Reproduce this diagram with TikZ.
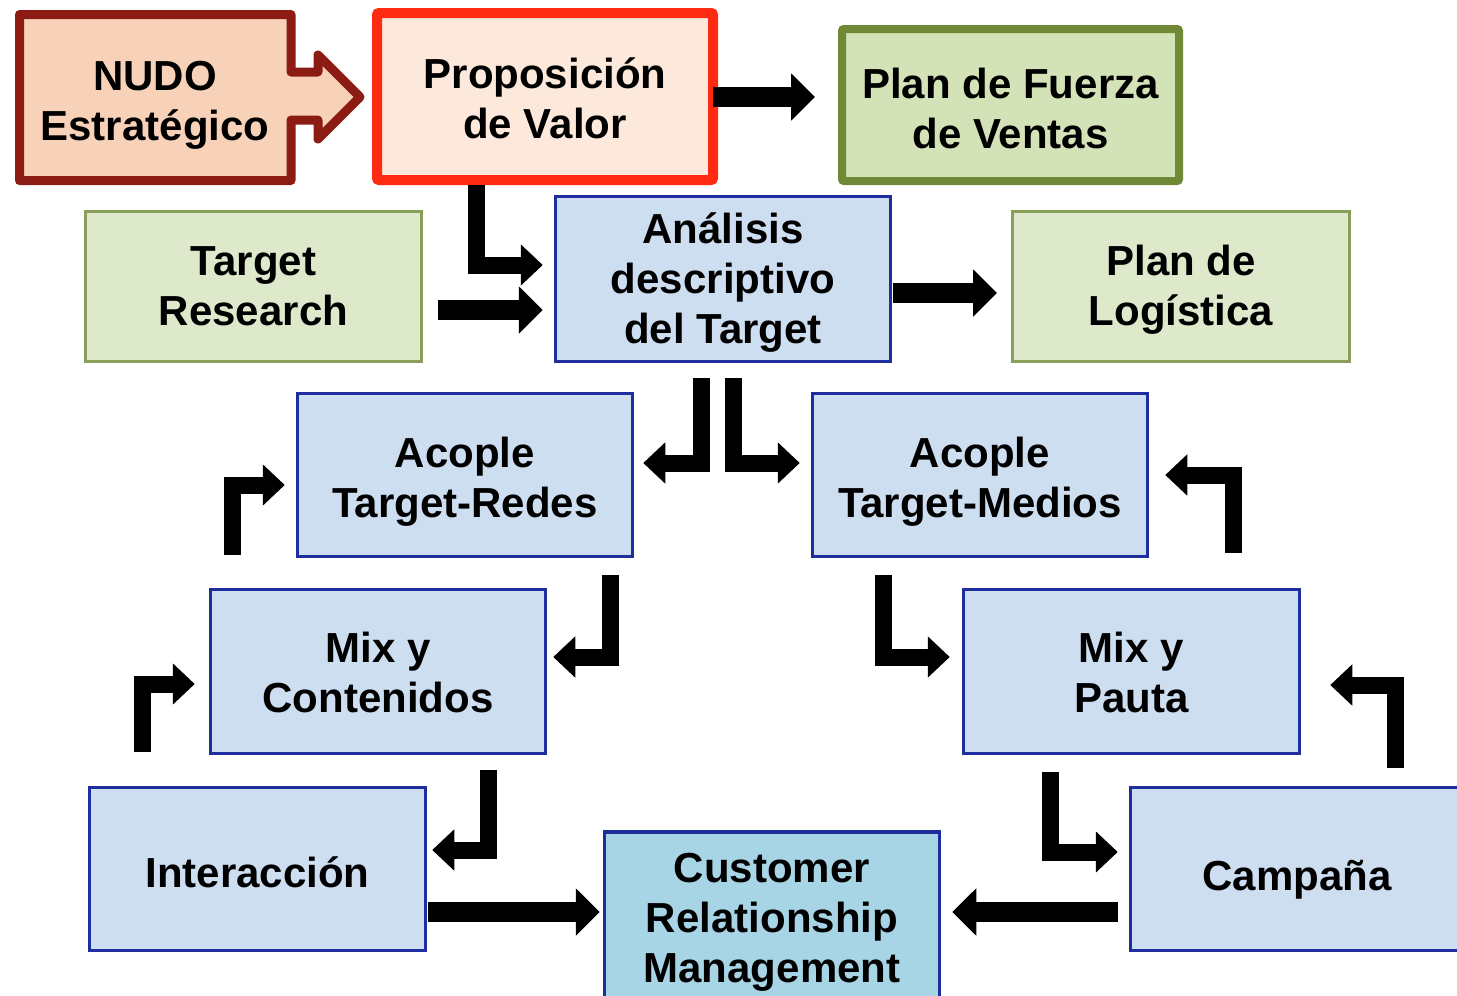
\documentclass[tikz,border=0pt]{standalone}
\usepackage{fontspec}
\setmainfont{Liberation Sans}
\usetikzlibrary{arrows.meta}

\definecolor{nudoLine}{HTML}{8C1C13}
\definecolor{nudoFill}{HTML}{F8D2B8}
\definecolor{propLine}{HTML}{FF2A12}
\definecolor{propFill}{HTML}{FDE9DB}
\definecolor{oliveLine}{HTML}{6F8936}
\definecolor{oliveFill}{HTML}{D4E2B7}
\definecolor{greenLine}{HTML}{8AA05A}
\definecolor{greenFill}{HTML}{DEE8CB}
\definecolor{blueLine}{HTML}{1F2E9E}
\definecolor{blueFill}{HTML}{CEDEF1}
\definecolor{crmFill}{HTML}{A7D5E5}

% struts fixing the height of the first text line and the depth of the last one
\newcommand\hi[1]{\rule{0pt}{#1pt}}
\newcommand\lo[1][20]{\rule[-#1pt]{0pt}{#1pt}}

\begin{document}
\begin{tikzpicture}[x=1pt,y=-1pt,
  labeltext/.style={font=\fontsize{42}{50}\selectfont\bfseries, align=center, text=black},
  card/.style={labeltext, rectangle, inner sep=0pt, line width=3.5pt,
    draw=blueLine, fill=blueFill, minimum width=335pt, minimum height=163pt},
  greencard/.style={card, draw=greenLine, fill=greenFill, line width=3pt,
    minimum width=336pt, minimum height=150pt},
  flow/.style={draw=black, line width=20pt, line join=miter,
    -{Triangle[length=24pt,width=46pt]}},
  elbow/.style={draw=black, line width=17pt, line join=miter,
    -{Triangle[length=22pt,width=40pt]}},
]
\useasboundingbox (0,0) rectangle (1457,996);

% strategic node: box with a built-in block arrow on its right side
\draw[draw=nudoLine, fill=nudoFill, line width=9pt, line join=round]
  (19.5,14.5) -- (291,14.5) -- (291,72) -- (318,72) -- (318,55) -- (360,97)
  -- (318,139) -- (318,120) -- (291,120) -- (291,180.5) -- (19.5,180.5) -- cycle;
\node[labeltext, inner sep=0pt] (nudo) at (155,97.5) {\hi{55}NUDO\\Estratégico\lo};

% top row
\node[card, draw=propLine, fill=propFill, line width=10pt, rounded corners=2pt,
  minimum width=336pt, minimum height=167pt] (prop) at (545,96.5) {\hi{53}Proposición\\de Valor\lo};
\node[card, draw=oliveLine, fill=oliveFill, line width=8pt, rounded corners=2pt,
  minimum width=337pt, minimum height=152pt] (fuerza) at (1010.5,105) {\hi{56}Plan de Fuerza\\de Ventas\lo};

% second row
\node[greencard] (tr) at (253.5,286.5) {\hi{47}Target\\Research\lo};
\node[card, minimum height=165pt] (anal) at (723,279) {\hi{42}Análisis\\descriptivo\\del Target\lo[14]};
\node[greencard, minimum width=337pt] (log) at (1181,286.5) {\hi{47}Plan de\\Logística\lo};

% coupling row
\node[card] (redes) at (465,475) {\hi{54}Acople\\Target-Redes\lo};
\node[card] (medios) at (980,475) {\hi{54}Acople\\Target-Medios\lo};

% mix row
\node[card, minimum height=164pt] (mixc) at (378,671.5) {\hi{51}Mix y\\Contenidos\lo};
\node[card, minimum width=336pt, minimum height=164pt] (mixp) at (1131.5,671.5) {\hi{51}Mix y\\Pauta\lo};

% bottom row
\node[card, minimum width=336pt] (int) at (257.5,869) {\hi{56}Interacción\lo};
\node[card, minimum height=166pt, fill=crmFill] (crm) at (772,915) {\hi{46}Customer\\Relationship\\Management\lo[12]};
\node[card, minimum width=333pt] (camp) at (1297,869) {\hi{62}Campaña\lo};

% connectors
\draw[flow] ([xshift=-5pt,yshift=-0.5pt]prop.east) -- ([xshift=-23pt,yshift=8pt]fuerza.west);
\draw[elbow] ([xshift=-69pt]prop.south) |- ([xshift=-11pt,yshift=14pt]anal.west);
\draw[flow] ([xshift=15pt,yshift=-23.5pt]tr.east) -- ([xshift=-11pt,yshift=-31pt]anal.west);
\draw[flow] ([xshift=1pt,yshift=-14pt]anal.east) -- ([xshift=-14pt,yshift=-6.5pt]log.west);

\draw[elbow] ([xshift=-22pt,yshift=-15pt]anal.south) |- ([xshift=9pt,yshift=12pt]redes.east);
\draw[elbow] ([xshift=10pt,yshift=-15pt]anal.south) |- ([xshift=-11pt,yshift=12pt]medios.west);

\draw[elbow] ([xshift=145pt,yshift=-17pt]redes.south) |- ([xshift=6pt,yshift=14.5pt]mixc.east);
\draw[elbow] ([xshift=-146pt,yshift=33pt]mixc.north) |- ([xshift=-11pt,yshift=-10pt]redes.west);
\draw[elbow] ([xshift=-115.5pt,yshift=34pt]int.north) |- ([xshift=-14pt,yshift=-12.5pt]mixc.west);
\draw[elbow] ([xshift=110pt,yshift=-15pt]mixc.south) |- ([xshift=5pt,yshift=19pt]int.east);

\draw[elbow] ([xshift=-97pt,yshift=-17pt]medios.south) |- ([xshift=-12pt,yshift=14.5pt]mixp.west);
\draw[elbow] ([xshift=101.5pt,yshift=35pt]mixp.north) |- ([xshift=16pt]medios.east);
\draw[elbow] ([xshift=-81.5pt,yshift=-17pt]mixp.south) |- ([xshift=-11pt,yshift=17pt]camp.west);
\draw[elbow] ([xshift=98pt,yshift=18pt]camp.north) |- ([xshift=29pt,yshift=-13.5pt]mixp.east);

\draw[flow] ([xshift=1pt,yshift=-43pt]int.east) -- ([xshift=-3pt,yshift=3pt]crm.west);
\draw[flow] ([xshift=-11pt,yshift=-43pt]camp.west) -- ([xshift=11pt,yshift=3pt]crm.east);
\end{tikzpicture}
\end{document}
